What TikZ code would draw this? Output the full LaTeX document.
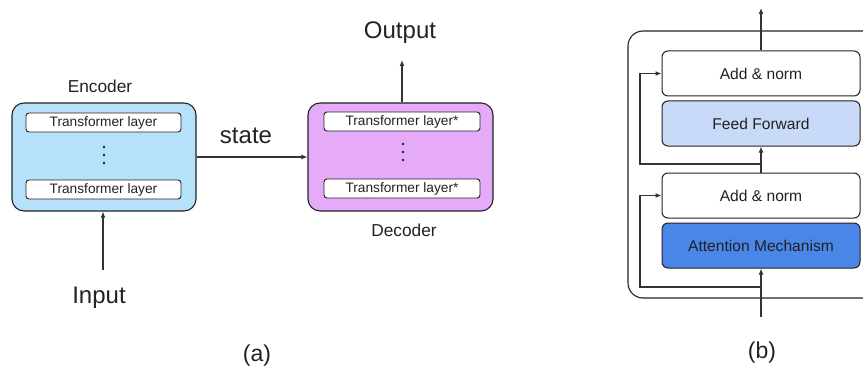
\documentclass[tikz,border=0pt]{standalone}
\usepackage{fontspec}
\setmainfont{Liberation Sans}
\usetikzlibrary{arrows.meta}

\definecolor{encfill}{RGB}{182,225,250}
\definecolor{decfill}{RGB}{229,170,248}
\definecolor{fffill}{RGB}{201,218,248}
\definecolor{attfill}{RGB}{74,134,232}
\definecolor{ink}{RGB}{34,34,34}
\definecolor{wire}{RGB}{51,51,51}

\tikzset{
  fsz/.style={font=\fontsize{#1}{#1}\selectfont},
  block/.style={draw=ink, line width=1.1pt, rounded corners=12pt, inner sep=0pt},
  layerbox/.style={draw=ink, line width=0.9pt, fill=white, rounded corners=3pt,
    minimum width=155pt, minimum height=19pt, inner sep=0pt, fsz=13.7, text=ink},
  subbox/.style={draw=ink, line width=1pt, rounded corners=6pt,
    minimum width=198pt, minimum height=45pt, inner sep=0pt, fsz=15.6, text=ink},
  caption/.style={text=ink, inner sep=0pt},
  arrow/.style={draw=wire, line width=1.2pt, -{Latex[length=6pt,width=5pt]}},
  dot/.style={circle, fill=ink, inner sep=0pt, minimum size=2.8pt}
}

\begin{document}
\begin{tikzpicture}[x=1pt, y=-1pt]
\useasboundingbox (0,0) rectangle (863,369);
\clip (0,0) rectangle (863,369);

% ---------- (a) encoder / decoder ----------
\node[block, fill=encfill, minimum width=184pt, minimum height=108pt] (enc) at (104,157) {};
\node[layerbox] (enc1) at (103.5,122.5) {Transformer layer};
\node[layerbox] (enc2) at (103.5,189.5) {Transformer layer};
\node[dot] (ed1) at (104,147) {};
\node[dot] (ed2) at (104,155) {};
\node[dot] (ed3) at (104,163) {};
\node[caption, fsz=17.3] (enclab) at (100,86) {Encoder};

\node[block, fill=decfill, minimum width=185pt, minimum height=108pt] (dec) at (400.5,157) {};
\node[layerbox, minimum width=156pt] (dec1) at (402,121.5) {Transformer layer*};
\node[layerbox, minimum width=156pt] (dec2) at (402,188.5) {Transformer layer*};
\node[dot] (dd1) at (403,144) {};
\node[dot] (dd2) at (403,152) {};
\node[dot] (dd3) at (403,160) {};
\node[caption, fsz=17.3] (declab) at (404,230) {Decoder};

\node[caption, fsz=24] (state) at (246,136) {state};
\node[caption, fsz=24] (outlab) at (400,33) {Output};
\node[caption, fsz=24] (inlab) at (99,298) {Input};
\node[caption, fsz=23] (capa) at (257,356) {(a)};

\coordinate (intail) at (103,270);
\coordinate (outtip) at (402,60);
\draw[arrow] (enc.east |- 0,157) -- (dec.west |- 0,157);
\draw[arrow] (intail) -- (intail |- enc.south);
\draw[arrow] (outtip |- dec.north) -- (outtip);

% ---------- (b) transformer block ----------
\draw[draw=ink, line width=1.1pt, rounded corners=15pt] (628,31) rectangle (900,298);

\node[subbox, fill=white] (add1) at (761,73.5) {Add \& norm};
\node[subbox, fill=fffill] (ff) at (761,123.5) {Feed Forward};
\node[subbox, fill=white] (add2) at (761,195.5) {Add \& norm};
\node[subbox, fill=attfill] (attn) at (761,245.5) {Attention Mechanism};
\node[caption, fsz=23] (capb) at (762,353) {(b)};

\coordinate (toptip) at (761,8);
\coordinate (j1) at (761,164);
\coordinate (j2) at (761,287);
\coordinate (btail) at (761,317);
\coordinate (rail1) at (640,164);
\coordinate (rail2) at (640,287);

\draw[arrow] (add1.north) -- (toptip);
\draw[arrow] (add2.north) -- (ff.south);
\draw[arrow] (btail) -- (attn.south);
\draw[arrow] (j1) -- (rail1) |- (add1.west);
\draw[arrow] (j2) -- (rail2) |- (add2.west);
\end{tikzpicture}
\end{document}
